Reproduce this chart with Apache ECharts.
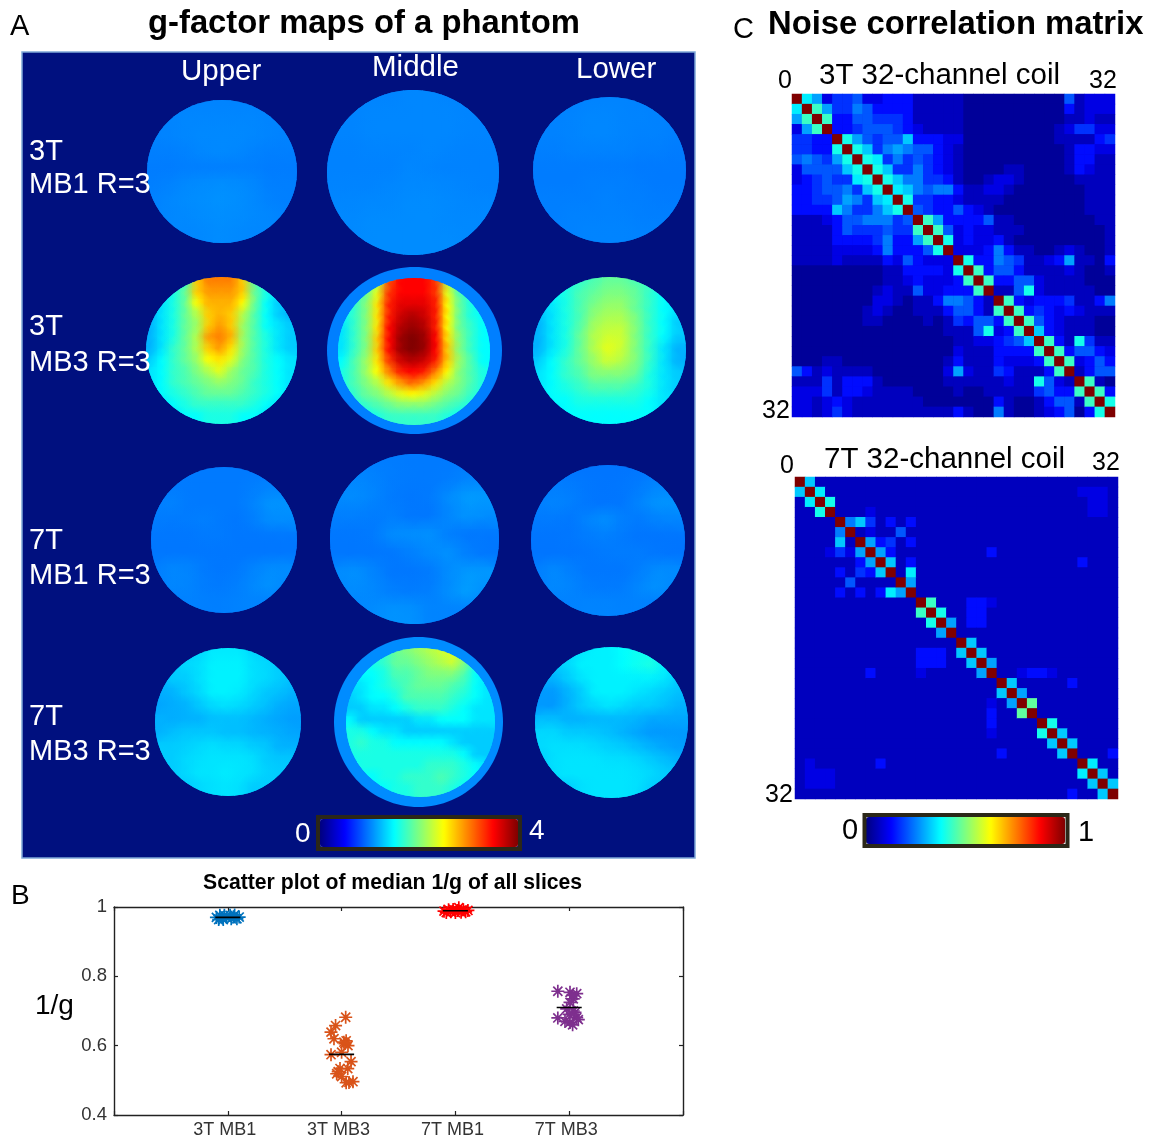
<!DOCTYPE html>
<html><head><meta charset="utf-8">
<style>html,body{margin:0;padding:0;background:#fff}#c{width:1151px;height:1140px;filter:blur(0.5px)}</style>
<script src="https://cdn.jsdelivr.net/npm/echarts@6/dist/echarts.min.js"></script>
</head><body><div id="c"></div>
<script>
const g3T_MB1_upper=[
[1.02,1.02,1.02,1.02,1.02,1.02,1.02,1.02,1.02],
[1.02,1.02,1.03,1.03,1.03,1.03,1.03,1.02,1.02],
[1.01,1.02,1.03,1.04,1.04,1.04,1.03,1.02,1.01],
[1.00,1.00,1.01,1.03,1.04,1.03,1.01,1.00,1.00],
[0.99,0.99,1.00,1.00,1.00,1.00,1.00,0.99,0.99],
[1.00,1.01,1.04,1.05,1.06,1.05,1.03,1.00,1.00],
[1.01,1.03,1.05,1.06,1.07,1.06,1.04,1.01,1.00],
[1.02,1.03,1.04,1.05,1.06,1.05,1.04,1.03,1.01],
[1.03,1.03,1.03,1.04,1.05,1.04,1.03,1.03,1.03]];
const g3T_MB1_middle=[
[1.02,1.02,1.02,1.02,1.03,1.03,1.02,1.02,1.02],
[1.02,1.02,1.03,1.03,1.03,1.03,1.03,1.02,1.02],
[1.02,1.02,1.03,1.03,1.03,1.03,1.03,1.02,1.02],
[1.01,1.01,1.02,1.02,1.02,1.03,1.02,1.01,1.01],
[1.01,1.01,1.01,1.01,1.03,1.02,1.01,1.01,1.01],
[1.02,1.02,1.02,1.03,1.04,1.04,1.03,1.02,1.01],
[1.03,1.03,1.04,1.04,1.05,1.05,1.04,1.03,1.03],
[1.04,1.04,1.05,1.05,1.05,1.05,1.04,1.04,1.04],
[1.04,1.04,1.05,1.05,1.05,1.05,1.05,1.04,1.04]];
const g3T_MB1_lower=[
[1.01,1.01,1.01,1.02,1.02,1.02,1.01,1.01,1.01],
[1.01,1.01,1.02,1.03,1.03,1.02,1.02,1.01,1.01],
[1.01,1.01,1.02,1.03,1.03,1.02,1.01,1.01,1.00],
[1.00,1.00,1.01,1.01,1.01,1.01,1.00,1.00,0.99],
[0.99,0.99,0.99,0.99,0.99,0.99,0.98,0.98,0.98],
[0.99,0.99,0.99,1.00,1.00,1.00,0.99,0.98,0.98],
[1.00,1.00,1.00,1.00,1.01,1.00,1.00,0.99,0.99],
[1.00,1.00,1.01,1.01,1.01,1.01,1.00,1.00,1.00],
[1.01,1.01,1.01,1.02,1.02,1.02,1.01,1.01,1.01]];
const g3T_MB3_upper=[
[1.3,1.4,1.5,1.7,2.7,3.0,3.0,3.0,2.7,1.8,1.5,1.4,1.3],
[1.3,1.4,1.6,1.9,2.7,2.9,2.9,2.9,2.7,1.9,1.6,1.4,1.3],
[1.3,1.4,1.6,1.9,2.5,2.8,2.8,2.8,2.5,1.9,1.5,1.3,1.3],
[1.2,1.4,1.6,1.9,2.2,2.7,2.8,2.7,2.2,1.8,1.5,1.3,1.2],
[1.2,1.4,1.6,1.9,2.1,2.7,2.9,2.7,2.1,1.8,1.5,1.4,1.3],
[1.2,1.4,1.6,1.9,2.2,2.9,3.0,2.8,2.1,1.8,1.6,1.4,1.3],
[1.2,1.4,1.7,1.9,2.2,2.7,2.9,2.6,2.1,1.8,1.6,1.4,1.3],
[1.3,1.5,1.7,1.9,2.1,2.5,2.6,2.4,2.0,1.8,1.6,1.5,1.4],
[1.4,1.5,1.7,1.8,2.0,2.2,2.4,2.1,1.9,1.8,1.6,1.5,1.4],
[1.4,1.5,1.7,1.8,1.9,2.0,2.1,2.0,1.9,1.7,1.6,1.5,1.4],
[1.4,1.5,1.6,1.7,1.8,1.9,1.9,1.9,1.8,1.7,1.6,1.5,1.4],
[1.4,1.4,1.5,1.6,1.7,1.7,1.7,1.7,1.7,1.6,1.5,1.4,1.4],
[1.4,1.4,1.4,1.5,1.5,1.6,1.6,1.6,1.5,1.5,1.4,1.4,1.4]];
const g3T_MB3_middle_rim=[[1.0]];
const g3T_MB3_middle=[
[1.6,1.6,1.8,2.2,3.2,3.5,3.5,3.5,3.3,2.2,1.7,1.5,1.4],
[1.6,1.7,1.9,2.4,3.3,3.5,3.5,3.5,3.3,2.4,1.8,1.6,1.5],
[1.5,1.7,2.0,2.6,3.4,3.6,3.6,3.6,3.4,2.5,1.9,1.6,1.5],
[1.5,1.7,2.0,2.6,3.4,3.7,3.8,3.7,3.4,2.5,1.9,1.6,1.5],
[1.4,1.7,2.0,2.6,3.5,3.8,3.9,3.8,3.4,2.5,1.9,1.7,1.5],
[1.4,1.7,2.0,2.7,3.5,3.9,4.0,3.9,3.5,2.6,2.0,1.7,1.5],
[1.4,1.7,2.0,2.7,3.5,3.9,4.0,3.9,3.5,2.7,2.0,1.7,1.5],
[1.5,1.8,2.1,2.6,3.3,3.7,3.8,3.7,3.4,2.7,2.1,1.8,1.5],
[1.6,1.8,2.1,2.5,3.0,3.4,3.5,3.4,3.0,2.5,2.0,1.8,1.6],
[1.6,1.8,2.0,2.2,2.6,2.9,3.1,2.9,2.6,2.2,2.0,1.8,1.6],
[1.6,1.7,1.9,2.0,2.2,2.4,2.5,2.4,2.2,2.0,1.9,1.7,1.6],
[1.5,1.6,1.7,1.8,1.9,2.0,2.0,2.0,1.9,1.8,1.7,1.6,1.5],
[1.4,1.5,1.5,1.6,1.7,1.7,1.7,1.7,1.7,1.6,1.5,1.5,1.4]];
const g3T_MB3_lower=[
[1.4,1.5,1.6,1.7,1.8,1.9,1.9,1.8,1.7,1.5,1.4],
[1.4,1.5,1.6,1.8,1.9,2.0,2.0,1.9,1.7,1.5,1.4],
[1.3,1.4,1.6,1.8,2.0,2.1,2.1,1.9,1.7,1.5,1.4],
[1.2,1.4,1.6,1.8,2.1,2.2,2.2,2.0,1.7,1.5,1.3],
[1.2,1.4,1.6,1.9,2.2,2.3,2.3,2.0,1.7,1.5,1.3],
[1.2,1.4,1.6,1.9,2.2,2.4,2.3,2.0,1.7,1.4,1.2],
[1.3,1.5,1.7,1.9,2.1,2.3,2.2,2.0,1.7,1.4,1.2],
[1.4,1.5,1.7,1.8,2.0,2.0,2.0,1.9,1.6,1.4,1.3],
[1.4,1.5,1.6,1.7,1.8,1.8,1.8,1.7,1.6,1.4,1.3],
[1.4,1.5,1.5,1.6,1.6,1.6,1.6,1.6,1.5,1.4,1.4],
[1.4,1.4,1.5,1.5,1.5,1.5,1.5,1.5,1.5,1.4,1.4]];
const g7T_MB1_upper=[
[0.98,0.98,0.98,0.98,0.98,0.98,0.98,0.98,0.98],
[0.99,0.99,0.98,0.98,0.98,0.98,1.00,1.02,1.02],
[1.00,1.01,0.98,0.98,0.98,0.98,1.02,1.08,1.08],
[0.99,0.98,0.99,1.00,0.98,0.97,1.00,1.05,1.05],
[0.97,0.97,0.97,0.98,0.98,0.97,0.97,0.97,0.97],
[0.97,0.97,0.97,0.97,0.97,0.97,0.97,0.97,0.97],
[1.00,1.03,1.02,0.98,0.97,0.98,1.02,1.05,1.05],
[1.00,1.03,1.02,0.99,0.98,1.00,1.04,1.07,1.03],
[0.98,1.00,1.01,1.00,1.00,1.01,1.02,1.01,0.99]];
const g7T_MB1_middle=[
[0.98,0.99,0.99,0.99,0.98,0.98,0.98,0.98,0.98],
[1.02,1.03,1.01,0.99,0.98,0.98,0.99,1.02,1.02],
[1.04,1.05,1.02,0.98,0.97,0.98,1.05,1.11,1.10],
[1.00,1.00,0.99,1.00,0.97,0.97,1.03,1.08,1.05],
[0.97,0.97,0.98,1.05,1.06,1.07,1.00,0.97,0.97],
[0.97,0.97,0.97,0.97,1.00,1.04,1.07,1.00,0.97],
[1.05,1.07,1.02,0.97,0.97,0.98,1.05,1.10,1.10],
[1.03,1.05,1.03,1.00,0.99,1.00,1.06,1.12,1.05],
[0.99,1.02,1.05,1.08,1.07,1.02,1.02,1.01,0.99]];
const g7T_MB1_lower=[
[0.96,0.96,0.96,0.96,0.96,0.96,0.97,0.98,0.98],
[0.98,1.00,0.99,0.97,0.96,0.97,0.99,1.03,1.03],
[1.00,1.02,1.00,0.97,0.96,0.97,1.02,1.08,1.08],
[0.98,0.98,0.97,1.02,1.06,1.00,0.98,1.01,1.02],
[0.96,0.96,0.97,0.99,1.00,0.98,0.96,0.96,0.96],
[0.96,0.96,0.96,0.97,0.98,0.99,0.99,0.97,0.96],
[1.00,1.04,1.00,0.97,0.97,0.97,1.00,1.05,1.05],
[1.00,1.04,1.02,0.99,0.98,0.99,1.03,1.07,1.03],
[0.98,1.00,1.01,1.02,1.02,1.01,1.01,1.00,0.99]];
const g7T_MB3_upper=[
[1.3,1.3,1.3,1.35,1.42,1.42,1.42,1.35,1.3,1.3,1.3],
[1.3,1.3,1.35,1.38,1.45,1.45,1.45,1.38,1.35,1.3,1.3],
[1.2,1.3,1.3,1.38,1.45,1.45,1.45,1.38,1.35,1.3,1.25],
[1.18,1.2,1.28,1.35,1.45,1.45,1.42,1.35,1.28,1.25,1.2],
[1.15,1.18,1.2,1.28,1.35,1.38,1.35,1.3,1.25,1.18,1.15],
[1.2,1.18,1.2,1.2,1.25,1.25,1.25,1.22,1.18,1.15,1.12],
[1.2,1.25,1.28,1.28,1.28,1.25,1.25,1.22,1.2,1.18,1.15],
[1.3,1.3,1.32,1.35,1.38,1.35,1.35,1.3,1.28,1.2,1.2],
[1.3,1.3,1.35,1.38,1.4,1.4,1.4,1.38,1.3,1.28,1.28],
[1.3,1.3,1.35,1.4,1.4,1.42,1.4,1.38,1.32,1.3,1.3],
[1.3,1.3,1.3,1.35,1.38,1.4,1.38,1.3,1.3,1.3,1.3]];
const g7T_MB3_middle_rim=[[1.05]];
const g7T_MB3_middle=[
[1.5,1.5,1.6,1.7,1.9,2.0,2.1,2.2,2.3,2.4,2.0,1.5,1.4],
[1.5,1.5,1.6,1.7,1.9,1.9,2.0,2.1,2.2,2.3,2.0,1.5,1.4],
[1.4,1.5,1.5,1.6,1.8,1.8,1.9,2.0,2.0,2.0,1.8,1.5,1.4],
[1.4,1.4,1.5,1.6,1.7,1.8,1.9,1.9,1.9,1.8,1.7,1.5,1.4],
[1.3,1.4,1.5,1.5,1.6,1.8,1.8,1.8,1.8,1.7,1.6,1.5,1.4],
[1.3,1.3,1.4,1.4,1.5,1.6,1.7,1.7,1.7,1.6,1.5,1.4,1.4],
[1.5,1.3,1.3,1.3,1.3,1.3,1.4,1.4,1.5,1.5,1.5,1.4,1.4],
[1.6,1.6,1.5,1.4,1.4,1.3,1.3,1.3,1.3,1.3,1.3,1.3,1.3],
[1.6,1.7,1.6,1.6,1.5,1.5,1.5,1.5,1.5,1.4,1.3,1.3,1.3],
[1.6,1.6,1.6,1.6,1.6,1.6,1.6,1.6,1.6,1.6,1.5,1.3,1.3],
[1.5,1.6,1.6,1.6,1.6,1.6,1.6,1.7,1.7,1.7,1.6,1.5,1.4],
[1.4,1.5,1.5,1.6,1.6,1.7,1.7,1.7,1.8,1.7,1.6,1.5,1.4],
[1.4,1.4,1.5,1.5,1.6,1.6,1.7,1.7,1.7,1.6,1.5,1.5,1.4]];
const g7T_MB3_lower=[
[1.3,1.3,1.35,1.4,1.45,1.45,1.5,1.55,1.55,1.4,1.3],
[1.2,1.3,1.35,1.45,1.45,1.45,1.5,1.55,1.6,1.45,1.3],
[1.2,1.2,1.3,1.4,1.45,1.45,1.45,1.45,1.45,1.4,1.3],
[1.1,1.1,1.2,1.3,1.45,1.45,1.45,1.4,1.35,1.3,1.25],
[1.1,1.1,1.2,1.3,1.35,1.4,1.35,1.3,1.3,1.25,1.2],
[1.25,1.25,1.2,1.2,1.22,1.22,1.22,1.2,1.15,1.15,1.15],
[1.35,1.35,1.3,1.3,1.28,1.25,1.2,1.15,1.1,1.1,1.1],
[1.35,1.38,1.38,1.38,1.35,1.32,1.3,1.25,1.2,1.15,1.12],
[1.3,1.38,1.4,1.4,1.4,1.38,1.38,1.35,1.3,1.25,1.2],
[1.3,1.38,1.4,1.4,1.4,1.4,1.4,1.38,1.35,1.3,1.3],
[1.3,1.3,1.3,1.38,1.4,1.4,1.4,1.38,1.3,1.3,1.3]];

// ---------- noise correlation: upper triangle, row i lists columns i+1..31; one base-36 digit per cell
const noise3T=[
"97244522333"+"11111"+"0000000000"+"51222",
"b744653333"+"11111"+"0000000000"+"31222",
"b33554443"+"11111"+"0000000000"+"11211",
"33455543"+"21111"+"0000000001"+"24422",
"a754558"+"33322"+"0000000001"+"11134",
"a84676"+"55321"+"0000000000"+"13322",
"a9464"+"54321"+"0000000000"+"13311",
"a844"+"64321"+"0000110000"+"13211",
"a86"+"64431"+"0012210000"+"01111",
"98"+"65663"+"1122100000"+"00111",
"a"+"44332"+"1111000000"+"00111",
"54335"+"3210000000"+"00111",
"b7333"+"351100000"+"00011",
"b523"+"221110000"+"00001",
"a23"+"223100000"+"00001",
"22"+"236311001"+"21001",
"a336541123"+"71103",
"b35531111"+"21001",
"b3355211"+"11000",
"115a211"+"11100",
"b32333"+"41136",
"b3432"+"32111",
"b532"+"11100",
"832"+"11100",
"b31a411",
"b35532",
"b2353",
"1355",
"b10",
"b3",
"a"];
const noise7T=[
"8",
"9"+"1111111111111111111111111"+"2221",
"a"+"111111111111111111111111"+"1221",
"1112"+"11111111111111111111"+"1221",
"6841313",
"121151",
"73413",
"7311"+"1111111"+"3",
"813"+"1111111111111111"+"3",
"19",
"7",
"",
"b11133"+"2",
"a1133",
"7133",
"",
"8",
"8",
"7",
"112332",
"8111113"+"",
"7",
"c",
"",
"a",
"8",
"8",
"1113",
"9",
"8",
"8"];
const channels=32;

// ---------- scatter plot of median 1/g
const groupLabels=["3T MB1","3T MB3","7T MB1","7T MB3"];
const pts3TMB1=[[0.90,0.970],[0.92,0.964],[0.93,0.976],[0.95,0.969],[0.96,0.964],[0.97,0.976],[0.99,0.970],[1.02,0.976],[1.03,0.966],[1.05,0.972],[1.06,0.977],[1.08,0.966],[1.10,0.971]];
const pts3TMB3=[[2.036,0.682],[1.947,0.658],[1.907,0.639],[1.933,0.620],[2.04,0.614],[2.056,0.600],[2.03,0.606],[2.02,0.61],[1.907,0.574],[2.0,0.581],[2.083,0.554],[2.054,0.534],[1.986,0.534],[1.957,0.519],[1.97,0.525],[2.0,0.511],[2.04,0.493],[2.1,0.496],[2.065,0.494]];
const pts7TMB1=[[2.90,0.988],[2.92,0.984],[2.94,0.992],[2.96,0.986],[2.98,0.993],[3.0,0.984],[3.02,0.990],[3.03,0.998],[3.05,0.985],[3.07,0.992],[3.09,0.986],[3.11,0.990]];
const pts7TMB3=[[3.90,0.757],[3.90,0.680],[4.007,0.754],[4.066,0.750],[4.036,0.735],[4.007,0.725],[3.978,0.706],[4.051,0.696],[4.066,0.681],[4.007,0.667],[4.08,0.675],[3.963,0.670],[4.036,0.700],[4.03,0.745],[4.0,0.69],[4.03,0.66]];
const medians=[0.970,0.575,0.989,0.71];
const pointColors=["#0072bd","#d95319","#ff0000","#7e2f8e"];

// ---------- layout (pixels)
const mapList=[
 [g3T_MB1_upper,147,100,150,143],[g3T_MB1_middle,327,90,172,165],[g3T_MB1_lower,533,97,153,146],
 [g3T_MB3_upper,146,277,151,147],[g3T_MB3_middle_rim,327,267,175,167],[g3T_MB3_middle,338,278,152,147],[g3T_MB3_lower,533,277,153,147],
 [g7T_MB1_upper,151,467,146,146],[g7T_MB1_middle,330,454,169,170],[g7T_MB1_lower,531,465,154,151],
 [g7T_MB3_upper,155,648,146,148],[g7T_MB3_middle_rim,334,637,169,170],[g7T_MB3_middle,346,648,149,149],[g7T_MB3_lower,535,647,153,151]];
const matrixBoxes=[[792,94,323,323],[795,477,323,322]];
const plotBox=[114,907,569,208];
const jet=['#00007f','#0000ff','#007fff','#00ffff','#7fff7f','#ffff00','#ff7f00','#ff0000','#7f0000'];
const font='"Liberation Sans",Arial,sans-serif';

const grid=[],xAxis=[],yAxis=[],series=[];
const hidden={show:false};
function addGrid(l,t,w,h,xa,ya,bg){const i=grid.length;grid.push({left:l,top:t,width:w,height:h,show:!!bg,backgroundColor:bg||'transparent',borderWidth:0});
 xAxis.push(Object.assign({gridIndex:i},xa));yAxis.push(Object.assign({gridIndex:i},ya));return i;}

const mapSeriesIdx=[];
mapList.forEach(([rows,l,t,w,h])=>{
 const n=rows.length;
 const gi=addGrid(l,t,w,h,{type:'value',min:0,max:n,show:false},{type:'value',min:0,max:n,inverse:true,show:false});
 const data=[];rows.forEach((row,r)=>row.forEach((v,c)=>data.push([c,r,v])));
 const clip={type:'ellipse',shape:{cx:l+w/2,cy:t+h/2,rx:w/2,ry:h/2}};
 [0,1].forEach(phase=>{
  if(phase===1&&n===1)return;
  mapSeriesIdx.push(series.length);
  series.push({type:'custom',xAxisIndex:gi,yAxisIndex:gi,silent:true,animation:false,clip:false,z:2+phase,
   encode:{x:0,y:1},data,
   renderItem(params,api){
    const p=api.coord([api.value(0)+.5,api.value(1)+.5]);
    const s=api.size([1,1]);const col=api.visual('color');
    if(phase===0)return{type:'rect',shape:{x:p[0]-s[0]/2-.5,y:p[1]-s[1]/2-.5,width:s[0]+1,height:s[1]+1},style:{fill:col},clipPath:clip};
    return{type:'ellipse',shape:{cx:p[0],cy:p[1],rx:s[0]*1.3,ry:s[1]*1.3},
     style:{fill:{type:'radial',x:.5,y:.5,r:.5,colorStops:[{offset:0,color:col},{offset:1,color:echarts.color.modifyAlpha(col,0)}]}},clipPath:clip};
   }});
 });
});

const heatIdx=[];
const chanCats=Array.from({length:channels},(_,i)=>String(i));
[noise3T,noise7T].forEach((upper,k)=>{
 const [l,t,w,h]=matrixBoxes[k];
 const gi=addGrid(l,t,w,h,{type:'category',data:chanCats,show:false},{type:'category',data:chanCats,inverse:true,show:false},k===0?'#00009a':'#0000bd');
 const fill=k===0?'0':'1';const data=[];
 for(let i=0;i<channels;i++){
  data.push([i,i,1]);
  const row=(upper[i]||'').padEnd(channels-1-i,fill);
  for(let j=i+1;j<channels;j++){const v=parseInt(row[j-i-1],36)*0.037+0.025;data.push([j,i,v]);data.push([i,j,v]);}
 }
 heatIdx.push(series.length);
 series.push({type:'heatmap',xAxisIndex:gi,yAxisIndex:gi,data,silent:true,progressive:0,animation:false,itemStyle:{borderWidth:0}});
});

// scatter
const [pl,pt,pw,ph]=plotBox;
const axisLine={show:true,onZero:false,lineStyle:{color:'#222',width:1.4}};
const tick={show:true,inside:true,length:4,lineStyle:{color:'#222',width:1.2}};
const giP=grid.length;
grid.push({left:pl,top:pt,width:pw,height:ph,show:false});
xAxis.push({gridIndex:giP,type:'value',min:0,max:5,interval:1,axisLine,axisTick:tick,splitLine:hidden,
 axisLabel:{show:true,margin:6,fontFamily:font,fontSize:18,color:'#333',padding:[0,6,0,0],formatter:v=>groupLabels[v-1]||''}});
xAxis.push({gridIndex:giP,type:'value',position:'top',min:0,max:5,interval:1,axisLine,axisTick:tick,splitLine:hidden,axisLabel:hidden});
yAxis.push({gridIndex:giP,type:'value',min:0.4,max:1,interval:0.2,axisLine,axisTick:tick,splitLine:hidden,
 axisLabel:{margin:7,fontFamily:font,fontSize:18.5,color:'#333',padding:[0,0,6,0],formatter:v=>v===1?'1':v.toFixed(1)}});
yAxis.push({gridIndex:giP,type:'value',position:'right',min:0.4,max:1,interval:0.2,axisLine,axisTick:tick,splitLine:hidden,axisLabel:hidden});
const xP=xAxis.length-2,yP=yAxis.length-2;
const star='path://M5 0V10M0 5H10M1.5 1.5L8.5 8.5M1.5 8.5L8.5 1.5';
[pts3TMB1,pts3TMB3,pts7TMB1,pts7TMB3].forEach((d,i)=>{
 series.push({type:'scatter',xAxisIndex:xP,yAxisIndex:yP,data:d,symbol:star,symbolSize:13,clip:false,silent:true,animation:false,
  itemStyle:{color:'rgba(0,0,0,0)',borderColor:pointColors[i],borderWidth:1.7,opacity:1},z:5});
});
medians.forEach((m,i)=>{
 series.push({type:'line',xAxisIndex:xP,yAxisIndex:yP,data:[[i+1-0.11,m],[i+1+0.11,m]],showSymbol:false,symbol:'none',clip:false,silent:true,animation:false,
  lineStyle:{color:'#000',width:1.6},z:6});
});

// text
const T=(text,x,y,size,opt={})=>({type:'text',x,y:y+1.5,z:100,silent:true,style:Object.assign({text,fontFamily:font,fontSize:size,fill:'#000',verticalAlign:'middle',align:'left'},opt)});
const W={fill:'#fff'};
const graphic=[
 {type:'rect',z:0,silent:true,shape:{x:22,y:52,width:673,height:806},style:{fill:'#00107f',stroke:'#7fa8d8',lineWidth:1.5}},
 {type:'rect',z:100,silent:true,shape:{x:318,y:817,width:202,height:32},style:{fill:'none',stroke:'#2b2718',lineWidth:4}},
 {type:'rect',z:100,silent:true,shape:{x:864.5,y:815,width:203,height:31},style:{fill:'none',stroke:'#2b2718',lineWidth:4}},
 T('A',10,25,29),
 T('g-factor maps of a phantom',148,22,32.8,{fontWeight:'bold'}),
 T('C',733,28,29),
 T('Noise correlation matrix',768,23,32.8,{fontWeight:'bold'}),
 T('3T 32-channel coil',819,74,29.5),T('0',778,80,25),T('32',1089,80,25),T('32',762,410,25),
 T('7T 32-channel coil',824,458,29.5),T('0',780,465,25),T('32',1092,462,25),T('32',765,794,25),
 T('0',842,829,29),T('1',1078,831,29),
 T('Upper',181,70,29.5,W),T('Middle',372,66,29.5,W),T('Lower',576,68,29.5,W),
 T('3T',29,150,29,W),T('MB1 R=3',29,183,29,W),
 T('3T',29,325,29,W),T('MB3 R=3',29,361,29,W),
 T('7T',29,539,29,W),T('MB1 R=3',29,574,29,W),
 T('7T',29,715,29,W),T('MB3 R=3',29,750,29,W),
 T('0',295,833,28,W),T('4',529,830,28,W),
 T('B',11,895,28),
 T('Scatter plot of median 1/g of all slices',203,882,21.2,{fontWeight:'bold'}),
 T('1/g',35,1005,28)
];

const option={animation:false,backgroundColor:'#fff',grid,xAxis,yAxis,series,graphic,
 visualMap:[
  {type:'continuous',min:0,max:4,seriesIndex:mapSeriesIdx,dimension:2,orient:'horizontal',left:320,top:819,itemWidth:28,itemHeight:198,calculable:false,realtime:false,text:null,showLabel:false,inRange:{color:jet},hoverLink:false,padding:0},
  {type:'continuous',min:0,max:1,seriesIndex:heatIdx,dimension:2,orient:'horizontal',left:866,top:817,itemWidth:27,itemHeight:199,calculable:false,realtime:false,text:null,showLabel:false,inRange:{color:jet},hoverLink:false,padding:0}
 ]};
const chart=echarts.init(document.getElementById('c'),null,{width:1151,height:1140,renderer:'canvas'});
chart.setOption(option);
</script></body></html>
